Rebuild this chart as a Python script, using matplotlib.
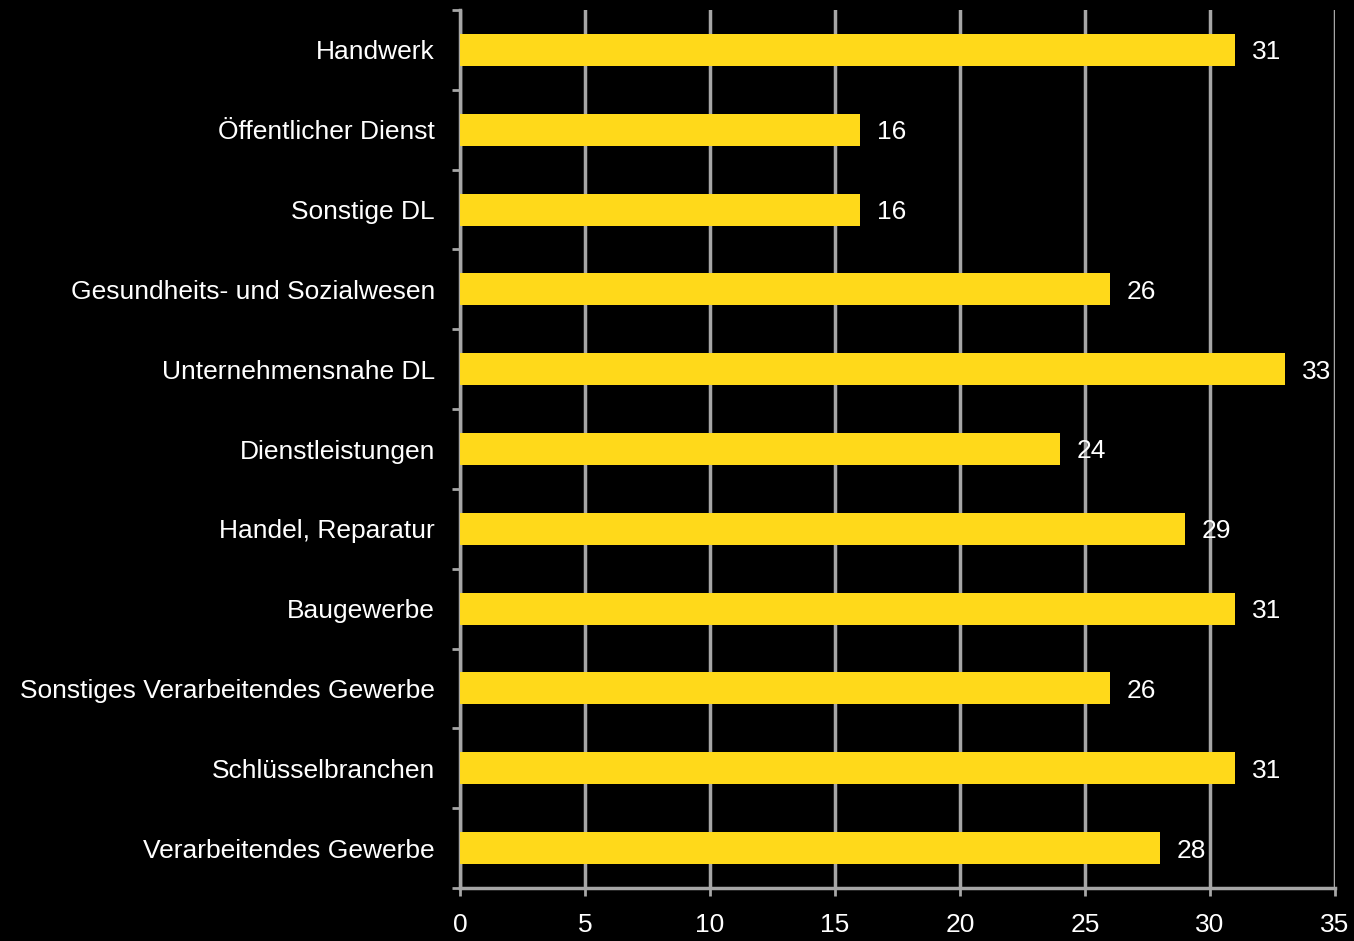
import numpy as np
import matplotlib.pyplot as plt

branchen = ["Handwerk", "Öffentlicher Dienst", "Sonstige DL",
            "Gesundheits- und Sozialwesen", "Unternehmensnahe DL",
            "Dienstleistungen", "Handel, Reparatur", "Baugewerbe",
            "Sonstiges Verarbeitendes Gewerbe", "Schlüsselbranchen",
            "Verarbeitendes Gewerbe"]
werte = [31, 16, 16, 26, 33, 24, 29, 31, 26, 31, 28]
x_ticks = [0, 5, 10, 15, 20, 25, 30, 35]

plt.rcParams['font.family'] = ['Liberation Sans', 'DejaVu Sans']

fig = plt.figure(figsize=(13.54, 9.41), dpi=100, facecolor='black')
ax = fig.add_axes([460 / 1354, 1 - 888 / 941, 875 / 1354, 878 / 941])
ax.set_facecolor('black')

pos = np.arange(len(branchen))
ax.barh(pos, werte, height=0.4, color='#ffd91a', zorder=3)

for p, v in zip(pos, werte):
    ax.annotate(str(v), (v, p), xytext=(12, 0), textcoords='offset points',
                va='center_baseline', ha='left', color='white', fontsize=19,
                zorder=4)

ax.set_xlim(0, 35)
ax.set_ylim(len(branchen) - 0.5, -0.5)
ax.set_xticks(x_ticks)
ax.set_yticks(pos)
ax.set_yticklabels(branchen, va='center_baseline')
ax.set_yticks(np.arange(-0.5, len(branchen), 1), minor=True)

ax.grid(axis='x', color='#a6a6a6', linewidth=2.5, zorder=1)
for s in ['top', 'right']:
    ax.spines[s].set_visible(False)
for s in ['left', 'bottom']:
    ax.spines[s].set_color('#a6a6a6')
    ax.spines[s].set_linewidth(2.5)

ax.tick_params(axis='y', which='major', length=0, pad=18, labelsize=19,
               labelcolor='white')
ax.tick_params(axis='y', which='minor', length=6, width=2, color='#a6a6a6')
ax.tick_params(axis='x', length=6, width=2, color='#a6a6a6', pad=12,
               labelsize=19, labelcolor='white')

fig.savefig('out.png', dpi=100, facecolor='black')
